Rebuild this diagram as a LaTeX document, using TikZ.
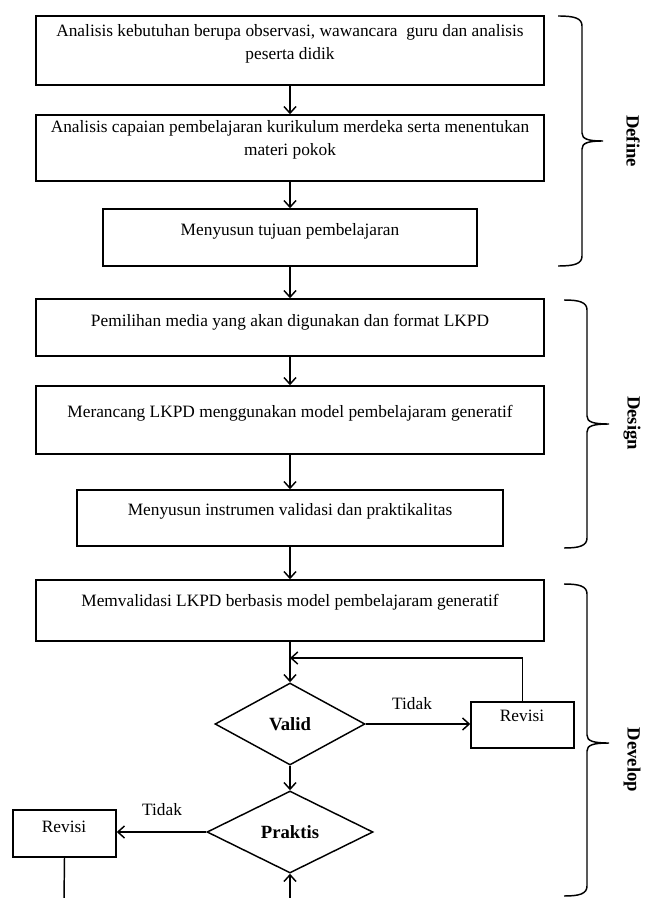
\documentclass[tikz,border=0pt]{standalone}
\usepackage{fontspec}
\setmainfont{Liberation Serif}
\usetikzlibrary{arrows.meta,shapes.geometric,fit,calc}
\newcommand\phbrace[6]{%
 \draw[brace] (#1,#4) .. controls ({#2-8},#4) and (#2,{#4+2}) .. (#2,{#4+10}) -- (#2,{#6-8}) .. controls (#2,{#6-2}) and ({#2+6},#6) .. (#3,#6) .. controls ({#2+6},#6) and (#2,{#6+2}) .. (#2,{#6+8}) -- (#2,{#5-10}) .. controls (#2,{#5-2}) and ({#2-8},#5) .. (#1,#5);}
\begin{document}
\begin{tikzpicture}[x=0.75pt,y=-0.75pt,
  box/.style={draw,line width=1.1pt,inner sep=0pt},
  txt/.style={font=\fontsize{13}{17}\selectfont,align=center,inner sep=0pt},
  dec/.style={draw,diamond,line width=1.1pt,inner sep=0pt,font=\fontsize{14}{17}\selectfont\bfseries},
  arr/.style={line width=1.1pt,-{Straight Barb[length=5pt,width=9pt]}},
  ln/.style={line width=1.1pt},
  brace/.style={line width=1.1pt},
  phase/.style={font=\fontsize{14}{17}\selectfont\bfseries,rotate=-90,inner sep=0pt}
]
\useasboundingbox (0,0) rectangle (644,898);
% define boxes
\node[box,fit={(36,16) (544,85)}] (b1) {};
\node[txt] (t1) at (290,44) {Analisis kebutuhan berupa observasi, wawancara\ \ guru dan analisis\\peserta didik};
\node[box,fit={(36,115) (544,181)}] (b2) {};
\node[txt] (t2) at (290,140) {Analisis capaian pembelajaran kurikulum merdeka serta menentukan\\materi pokok};
\node[box,fit={(103,209) (477,266)}] (b3) {};
\node[txt] (t3) at (290,231) {Menyusun tujuan pembelajaran};
% design boxes
\node[box,fit={(36,299) (544,356)}] (b4) {};
\node[txt] (t4) at (290,322) {Pemilihan media yang akan digunakan dan format LKPD};
\node[box,fit={(36,386) (544,454)}] (b5) {};
\node[txt] (t5) at (290,413) {Merancang LKPD menggunakan model pembelajaram generatif};
\node[box,fit={(77,490) (503,546)}] (b6) {};
\node[txt] (t6) at (290,511) {Menyusun instrumen validasi dan praktikalitas};
% develop
\node[box,fit={(36,580) (544,641)}] (b7) {};
\node[txt] (t7) at (290,602) {Memvalidasi LKPD berbasis model pembelajaram generatif};
\node[dec,minimum width=112.5pt,minimum height=61.5pt] (val) at (290,724) {Valid};
\node[dec,minimum width=124.5pt,minimum height=61.5pt] (prak) at (290,832) {Praktis};
\node[box,fit={(471,702) (574,748)}] (r1) {};
\node[txt] (tr1) at (522,716) {Revisi};
\node[box,fit={(13,810) (116,857)}] (r2) {};
\node[txt] (tr2) at (64,827) {Revisi};
\node[txt] (td1) at (412,704) {Tidak};
\node[txt] (td2) at (162,810) {Tidak};
\coordinate (lp) at (290,658);
\coordinate (e1) at (64,900);
\coordinate (e2) at (290,900);
% connectors
\draw[arr] (b1.south) -- (b2.north);
\draw[arr] (b2.south) -- (b3.north);
\draw[arr] (b3.south) -- (b4.north);
\draw[arr] (b4.south) -- (b5.north);
\draw[arr] (b5.south) -- (b6.north);
\draw[arr] (b6.south) -- (b7.north);
\draw[arr] (b7.south) -- (val.north);
\draw[arr] (val.east) -- (val.east -| r1.west);
\draw[arr] (r1.north) |- (lp);
\draw[arr] (val.south) -- (prak.north);
\draw[arr] (prak.west) -- (prak.west -| r2.east);
\draw[ln] (r2.south) -- (e1);
\draw[arr] (e2) -- (prak.south);
% braces
\phbrace{558}{582}{603}{16}{266}{141}
\phbrace{564}{587}{609}{300}{548}{424}
\phbrace{564}{587}{609}{584}{896}{743}
\node[phase] (pd1) at (633,141) {Define};
\node[phase] (pd2) at (632,423) {Design};
\node[phase] (pd3) at (632,760) {Develop};
\end{tikzpicture}
\end{document}
